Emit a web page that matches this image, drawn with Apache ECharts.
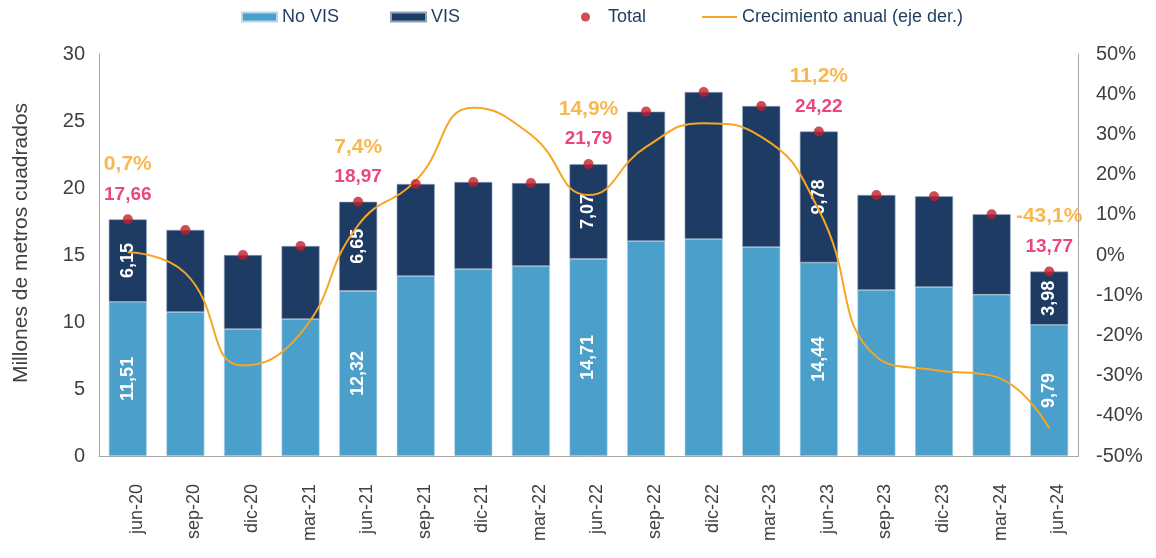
<!DOCTYPE html>
<html><head><meta charset="utf-8">
<script src="https://cdn.jsdelivr.net/npm/echarts@6/dist/echarts.min.js"></script>
<style>html,body{margin:0;padding:0;background:#fff}#c{width:1156px;height:558px}</style>
</head><body><div id="c"></div>
<script>
const categories = ['jun-20','sep-20','dic-20','mar-21','jun-21','sep-21','dic-21','mar-22','jun-22','sep-22','dic-22','mar-23','jun-23','sep-23','dic-23','mar-24','jun-24'];
const noVis = [11.51,10.75,9.48,10.22,12.32,13.43,13.95,14.18,14.71,16.04,16.19,15.60,14.44,12.39,12.61,12.04,9.79];
const vis   = [6.15,6.12,5.52,5.45,6.65,6.87,6.50,6.19,7.07,9.66,10.97,10.52,9.78,7.09,6.77,6.00,3.98];
const total = [17.66,16.87,15.00,15.67,18.97,20.30,20.45,20.37,21.79,25.70,27.16,26.12,24.22,19.48,19.38,18.04,13.77];
const growth = [0.7,-4.5,-27.5,-19.5,7.4,18.5,36.6,29.9,14.9,26.9,32.8,29.4,11.2,-25.3,-28.6,-30.0,-43.1];
const labeledIdx = [0,4,8,12,16];

const fmt = (v, d) => v.toFixed(d).replace('.', ',');
const FONT = '"Liberation Sans", Arial, sans-serif';
const C_NOVIS = '#4b9fcb', C_VIS = '#1e3c63', C_DOT = '#c21f2b', C_LINE = '#f6a623', C_TOT = '#e4195d';
const innerLabel = {show:true, rotate:90, position:'inside', color:'#fff', fontWeight:'bold', fontSize:18, fontFamily:FONT, formatter: p => fmt(p.value,2)};

const chart = echarts.init(document.getElementById('c'), null, {renderer:'canvas'});
const legendText = {color:'#1f3b5e', fontSize:18, fontFamily:FONT};
chart.setOption({
  animation:false,
  backgroundColor:'#fff',
  grid:{left:99, right:78, top:54, bottom:102, containLabel:false, outerBoundsMode:'none'},
  legend:[
    {data:['No VIS'], left:236, top:3, icon:'rect', itemWidth:35, itemHeight:9, textStyle:legendText},
    {data:['VIS'], left:385, top:3, icon:'rect', itemWidth:35, itemHeight:9, textStyle:legendText},
    {data:['Total'], left:576, top:3, icon:'circle', itemWidth:9, itemHeight:9, textStyle:Object.assign({padding:[0,0,0,13]}, legendText)},
    {data:['Crecimiento anual (eje der.)'], left:697, top:3, icon:'rect', itemWidth:35, itemHeight:2, textStyle:legendText}
  ],
  xAxis:{type:'category', data:categories,
    axisLine:{lineStyle:{color:'#a6a6a6', width:1}}, axisTick:{show:false},
    axisLabel:{rotate:90, color:'#404040', fontSize:18, fontFamily:FONT, margin:28, verticalAlign:'top', lineHeight:18}},
  yAxis:[
    {type:'value', min:0, max:30, interval:5,
     name:'Millones de metros cuadrados', nameLocation:'middle', nameRotate:90, nameGap:67,
     nameTextStyle:{color:'#404040', fontSize:21, fontFamily:FONT, padding:[0,0,0,24]},
     axisLine:{show:true, lineStyle:{color:'#a6a6a6'}}, axisTick:{show:false}, splitLine:{show:false},
     axisLabel:{color:'#404040', fontSize:20, fontFamily:FONT, margin:14}},
    {type:'value', min:-50, max:50, interval:10, position:'right',
     axisLine:{show:true, lineStyle:{color:'#a6a6a6'}}, axisTick:{show:false}, splitLine:{show:false},
     axisLabel:{color:'#404040', fontSize:20, fontFamily:FONT, margin:18, formatter: v => v + '%'}}
  ],
  series:[
    {name:'No VIS', type:'bar', stack:'a', barCategoryGap:'34%', itemStyle:{color:C_NOVIS, borderColor:'#b9d6ea', borderWidth:0.6},
     data: noVis.map((v,i) => ({value:v, label: labeledIdx.includes(i) ? innerLabel : {show:false}})), z:2},
    {name:'VIS', type:'bar', stack:'a', itemStyle:{color:C_VIS, borderColor:'#8ea3bb', borderWidth:0.6},
     data: vis.map((v,i) => ({value:v, label: labeledIdx.includes(i) ? innerLabel : {show:false}})), z:2},
    {name:'Crecimiento anual (eje der.)', type:'line', yAxisIndex:1, data:growth, smooth:0.5, symbol:'none',
     lineStyle:{color:C_LINE, width:2}, itemStyle:{color:C_LINE}, z:3},
    {name:'Total', type:'scatter', data: total.map((v,i) => ({value:v, label:{show: labeledIdx.includes(i)}})),
     symbolSize:10, itemStyle:{color:C_DOT}, z:4,
     label:{position:'top', distance:6, fontFamily:FONT, lineHeight:32,
       formatter: p => '{g|' + fmt(growth[p.dataIndex],1) + '%}\n{t|' + fmt(p.value,2) + '}',
       rich:{g:{color:C_LINE, fontWeight:'bold', fontSize:21, fontFamily:FONT, lineHeight:32},
             t:{color:C_TOT, fontWeight:'bold', fontSize:19, fontFamily:FONT, lineHeight:28}}}}
  ]
});
</script></body></html>
